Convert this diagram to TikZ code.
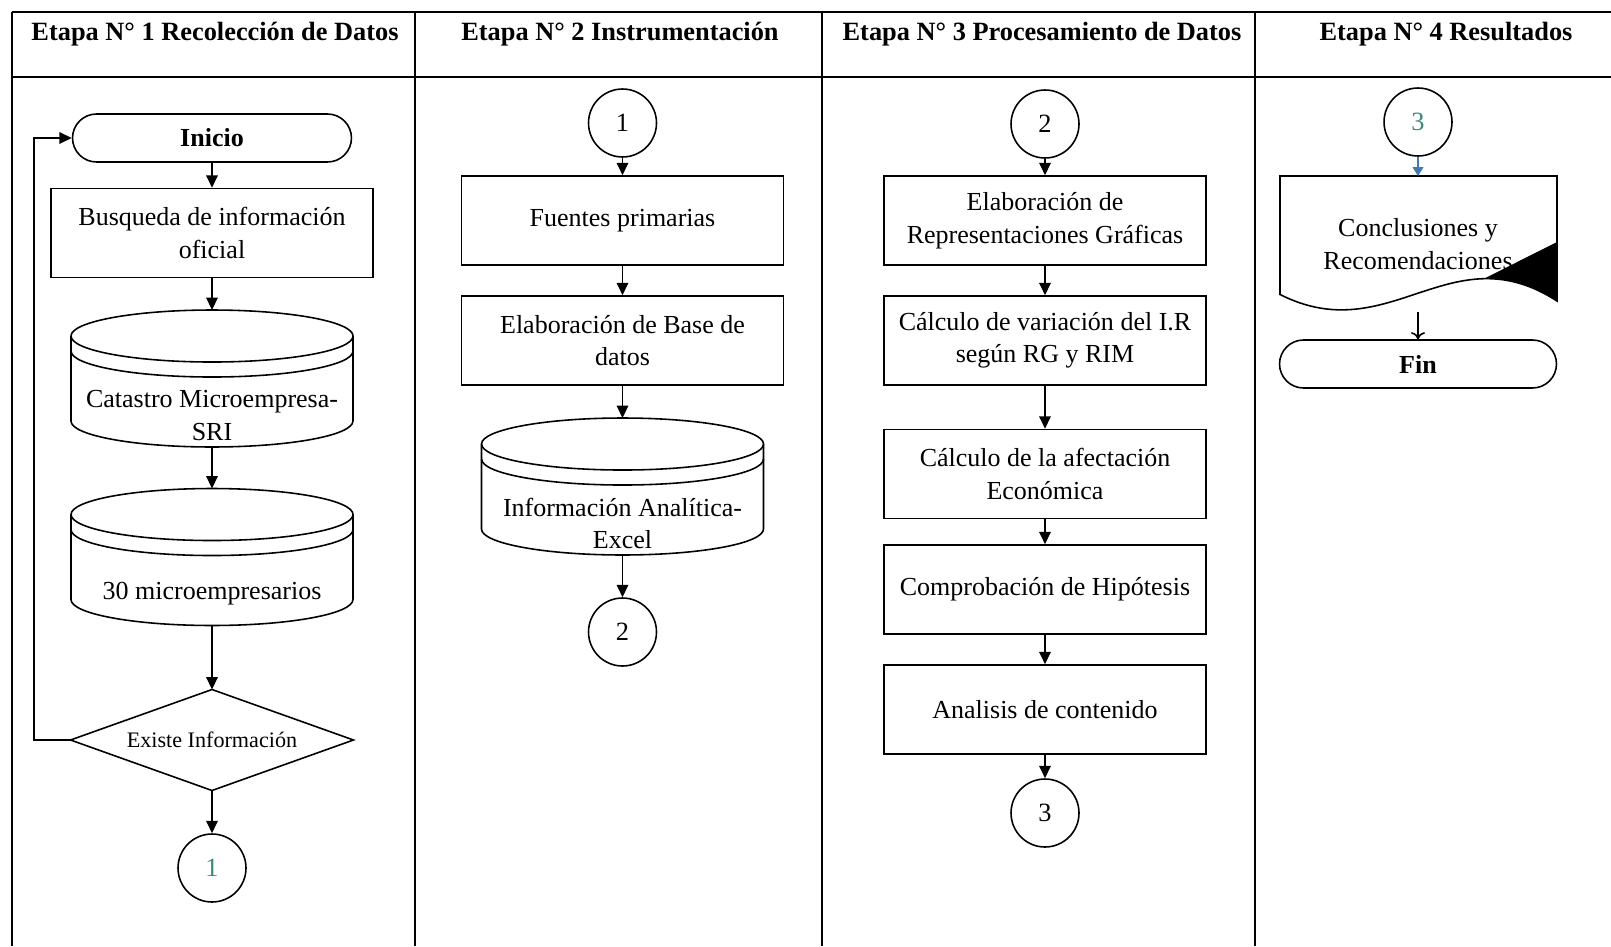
\documentclass[tikz,border=0pt]{standalone}
\usepackage{fontspec}
\setmainfont{Liberation Serif}
\usetikzlibrary{shapes.geometric,arrows.meta,calc}
\definecolor{verdeazul}{RGB}{52,140,122}
\definecolor{azulflecha}{RGB}{62,122,180}
\tikzstyle{etapa}=[font=\fontsize{15}{17}\selectfont\bfseries]
\tikzstyle{proceso}=[rectangle,draw,line width=0.9pt,minimum width=6.44cm,minimum height=1.78cm,align=center,font=\fontsize{14.8}{18.5}\selectfont]
\tikzstyle{conector}=[circle,draw,line width=0.9pt,minimum size=1.36cm,inner sep=0pt,font=\fontsize{15}{18}\selectfont]
\tikzstyle{terminal}=[rectangle,rounded corners=0.48cm,draw,line width=0.9pt,minimum width=5.58cm,minimum height=0.96cm,font=\fontsize{14.8}{18}\selectfont\bfseries]
\tikzstyle{basedatos}=[rectangle,minimum width=5.64cm,minimum height=2.74cm,inner sep=0pt,outer sep=0pt]
\tikzstyle{textobd}=[align=center,yshift=-0.74cm,font=\fontsize{14.8}{18.5}\selectfont]
\tikzstyle{decision}=[diamond,draw,line width=0.9pt,aspect=2.8,minimum width=5.66cm,minimum height=2.02cm,inner sep=0pt,outer sep=0pt,font=\fontsize{12.6}{15}\selectfont]
\tikzstyle{documento}=[rectangle,minimum width=5.54cm,minimum height=2.72cm,inner sep=0pt,outer sep=0pt,align=center,font=\fontsize{14.8}{18.5}\selectfont]
\tikzstyle{linea}=[line width=0.9pt]
\newcommand{\cilindro}[1]{%
  \draw[linea] ($(#1.north west)+(0,-26)$) arc[start angle=180,end angle=0,x radius=141,y radius=26]
    -- ($(#1.south east)+(0,26)$) arc[start angle=0,end angle=-180,x radius=141,y radius=26] -- cycle;
  \draw[linea] ($(#1.north west)+(0,-26)$) arc[start angle=180,end angle=360,x radius=141,y radius=26];
  \draw[linea] ($(#1.north west)+(0,-41)$) arc[start angle=180,end angle=360,x radius=141,y radius=26];}

\begin{document}
\begin{tikzpicture}[x=0.02cm, y=0.02cm, >={Triangle[length=7pt,width=6.5pt]}]
\useasboundingbox (0,0) rectangle (1611,-946);
% tabla de etapas
\draw[line width=1pt] (12,-12) -- (1611,-12);
\draw[line width=1.6pt] (12,-77) -- (1611,-77);
\draw[line width=1.1pt] (12,-12) -- (12,-946);
\draw[line width=1.1pt] (415,-12) -- (415,-946);
\draw[line width=1.1pt] (822,-12) -- (822,-946);
\draw[line width=1.1pt] (1255,-12) -- (1255,-946);
\node[etapa] at (215, -34) (et1) {Etapa N° 1 Recolección de Datos};
\node[etapa] at (620, -34) (et2) {Etapa N° 2 Instrumentación};
\node[etapa] at (1042, -34) (et3) {Etapa N° 3 Procesamiento de Datos};
\node[etapa] at (1446, -34) (et4) {Etapa N° 4 Resultados};

% etapa 1
\node[terminal] at (212, -138) (ini) {Inicio};
\node[proceso] at (212, -233) (bus) {Busqueda de información\\oficial};
\node[basedatos] at (212, -378.5) (cat) {};
\cilindro{cat}
\node[textobd, name=catt] at (cat) {Catastro Microempresa-\\SRI};
\node[basedatos] at (212, -557) (mic) {};
\cilindro{mic}
\node[textobd, name=mict] at (mic) {30 microempresarios};
\node[decision] at (212, -740) (dec) {Existe Información};
\node[conector, text=verdeazul] at (212, -868) (c1a) {1};
\coordinate (lazo) at (34, -740);
\draw[->, linea] (ini) edge (bus);
\draw[->, linea] (bus) edge (cat);
\draw[->, linea] (cat) edge (mic);
\draw[->, linea] (mic) edge (dec);
\draw[->, linea] (dec) edge (c1a);
\draw[->, linea] (dec.west) -- (lazo) |- (ini.west);

% etapa 2
\node[conector] at (622.5, -123) (c1b) {1};
\node[proceso] at (622.5, -220.5) (fue) {Fuentes primarias};
\node[proceso] at (622.5, -340.5) (bas) {Elaboración de Base de\\datos};
\node[basedatos] at (622.5, -486.5) (ana) {};
\cilindro{ana}
\node[textobd, name=anat] at (ana) {Información Analítica-\\Excel};
\node[conector] at (622.5, -632) (c2a) {2};
\draw[->, linea] (c1b) edge (fue);
\draw[->, linea] (fue) edge (bas);
\draw[->, linea] (bas) edge (ana);
\draw[->, linea] (ana) edge (c2a);

% etapa 3
\node[conector] at (1045, -124) (c2b) {2};
\node[proceso] at (1045, -220.5) (gra) {Elaboración de\\Representaciones Gráficas};
\node[proceso] at (1045, -340.5) (cal) {Cálculo de variación del I.R\\según RG y RIM};
\node[proceso] at (1045, -474) (afe) {Cálculo de la afectación\\Económica};
\node[proceso] at (1045, -589.5) (hip) {Comprobación de Hipótesis};
\node[proceso] at (1045, -709.5) (con) {Analisis de contenido};
\node[conector] at (1045, -813) (c3a) {3};
\draw[->, linea] (c2b) edge (gra);
\draw[->, linea] (gra) edge (cal);
\draw[->, linea] (cal) edge (afe);
\draw[->, linea] (afe) edge (hip);
\draw[->, linea] (hip) edge (con);
\draw[->, linea] (con) edge (c3a);

% etapa 4
\node[conector, text=verdeazul] at (1418, -122) (c3b) {3};
\node[documento] at (1418, -244) (doc) {Conclusiones y\\Recomendaciones};
\draw[linea] (1280,-176) -- (1557,-176) -- (1557,-301) .. controls (1450,-232) and (1390,-350) .. (1280,-294.5) -- cycle;
\fill (1557,-242) -- (1557,-301) .. controls (1530.25,-283.75) and (1506.44,-278.19) .. (1484.05,-278.68) -- cycle;
\node[terminal, minimum width=5.54cm] at (1418, -364) (fin) {Fin};
\draw[->, linea, azulflecha, >={Triangle[length=5pt,width=6pt]}] (c3b) edge (doc);
\draw[-{To[length=4pt,width=8pt]}, linea] (doc) edge (fin);
\end{tikzpicture}
\end{document}
